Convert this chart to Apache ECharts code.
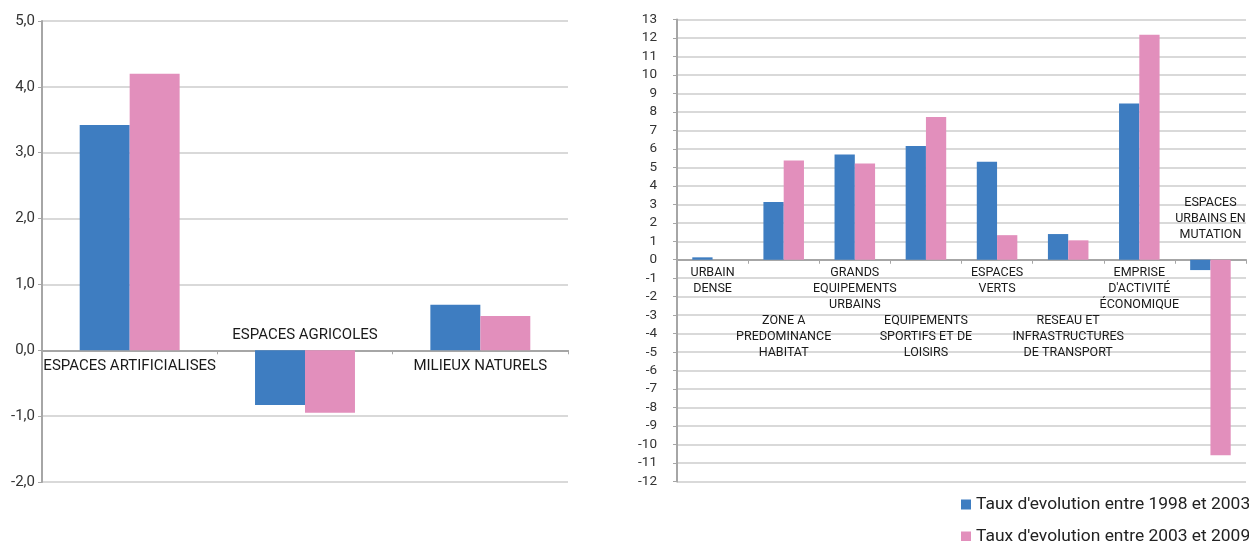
<!DOCTYPE html>
<html>
<head>
<meta charset="utf-8">
<script src="https://cdn.jsdelivr.net/npm/echarts@6/dist/echarts.min.js"></script>
<style>
  html, body { margin: 0; padding: 0; background: #fff; }
  #chart { width: 1249px; height: 541px; }
</style>
</head>
<body>
<div id="chart"></div>
<script>
// Land-use change rates, two periods
const seriesNames = ["Taux d'evolution entre 1998 et 2003", "Taux d'evolution entre 2003 et 2009"];

// Broad land-use classes (left panel)
const broadCategories = ['ESPACES ARTIFICIALISES', 'ESPACES AGRICOLES', 'MILIEUX NATURELS'];
const broad1998 = [3.42, -0.83, 0.69];
const broad2003 = [4.20, -0.95, 0.52];
const broadMin = -2, broadMax = 5, broadStep = 1;

// Artificial land-use sub-classes (right panel)
const urbanCategories = [
  'URBAIN\nDENSE',
  'ZONE A\nPREDOMINANCE\nHABITAT',
  'GRANDS\nEQUIPEMENTS\nURBAINS',
  'EQUIPEMENTS\nSPORTIFS ET DE\nLOISIRS',
  'ESPACES\nVERTS',
  'RESEAU ET\nINFRASTRUCTURES\nDE TRANSPORT',
  "EMPRISE\nD'ACTIVITÉ\nÉCONOMIQUE",
  'ESPACES\nURBAINS EN\nMUTATION'
];
const urban1998 = [0.13, 3.12, 5.70, 6.15, 5.30, 1.39, 8.46, -0.56];
const urban2003 = [0.00, 5.37, 5.21, 7.73, 1.33, 1.05, 12.17, -10.58];
const urbanMin = -12, urbanMax = 13, urbanStep = 1;

const colors = ['#3e7dc1', '#e28fbc'];
const FONT = 'Roboto, "Noto Sans", sans-serif';
const axisGray = '#a6a6a6';
const gridGray = '#d9d9d9';

const grids = [
  { left: 42, top: 21, width: 526, height: 461, outerBoundsMode: 'none' },
  { left: 677, top: 19.5, width: 569, height: 462, outerBoundsMode: 'none' }
];

// a category whose bars are all below zero gets its label above the axis
function allNegative(a, b, i) { return a[i] < 0 && b[i] < 0; }

function bottomAxis(gridIndex, cats, a, b, margin, fontSize, stagger) {
  return {
    type: 'category', gridIndex, data: cats, position: 'bottom',
    axisLine: { onZero: false, lineStyle: { color: axisGray, width: 2 } },
    axisTick: { show: true, length: 4, lineStyle: { color: axisGray, width: 1 } },
    axisLabel: {
      interval: 0, margin, color: '#1a1a1a', fontFamily: FONT, fontSize, lineHeight: 16,
      formatter: (v, i) => allNegative(a, b, i) ? '' : (stagger && i % 2 === 1 ? '\n\n\n' + v : v)
    },
    splitLine: { show: false }
  };
}

function topAxis(gridIndex, cats, a, b, margin, fontSize) {
  return {
    type: 'category', gridIndex, data: cats, position: 'top',
    axisLine: { show: false, onZero: false },
    axisTick: { show: false },
    axisLabel: {
      interval: 0, margin, color: '#1a1a1a', fontFamily: FONT, fontSize, lineHeight: 16,
      formatter: (v, i) => allNegative(a, b, i) ? v : ''
    },
    splitLine: { show: false }
  };
}

function valueAxis(gridIndex, min, max, step, margin, fontSize, fmt) {
  return {
    type: 'value', gridIndex, min, max, interval: step,
    axisLine: { show: true, lineStyle: { color: axisGray, width: 2 } },
    axisTick: { show: true, length: 4, lineStyle: { color: axisGray, width: 1 } },
    axisLabel: { margin, color: '#333', fontFamily: FONT, fontSize, formatter: fmt },
    splitLine: { show: true, lineStyle: { color: gridGray, width: 2 } }
  };
}

function barSeries(name, data, xIndex, yIndex, color) {
  return {
    type: 'bar', name, data, xAxisIndex: xIndex, yAxisIndex: yIndex,
    barGap: '0%', barCategoryGap: '43%',
    itemStyle: { color }, emphasis: { disabled: true }
  };
}

function legendRow(name, top) {
  return {
    orient: 'vertical', left: 961, top, padding: 0,
    itemWidth: 10, itemHeight: 10, icon: 'rect',
    textStyle: { color: '#222', fontFamily: FONT, fontSize: 17.4 },
    data: [name]
  };
}

const chart = echarts.init(document.getElementById('chart'), null, { renderer: 'canvas' });
chart.setOption({
  animation: false,
  backgroundColor: '#fff',
  textStyle: { fontFamily: FONT },
  grid: grids,
  xAxis: [
    bottomAxis(0, broadCategories, broad1998, broad2003, 8, 15, false),
    topAxis(0, broadCategories, broad1998, broad2003, 7, 15),
    bottomAxis(1, urbanCategories, urban1998, urban2003, 5, 12.5, true),
    topAxis(1, urbanCategories, urban1998, urban2003, 17, 12.5)
  ],
  yAxis: [
    valueAxis(0, broadMin, broadMax, broadStep, 7, 15, v => v.toFixed(1).replace('.', ',')),
    valueAxis(1, urbanMin, urbanMax, urbanStep, 20, 13.5, v => String(v))
  ],
  legend: [legendRow(seriesNames[0], 496), legendRow(seriesNames[1], 528)],
  series: [
    barSeries(seriesNames[0], broad1998, 0, 0, colors[0]),
    barSeries(seriesNames[1], broad2003, 0, 0, colors[1]),
    barSeries(seriesNames[0], urban1998, 2, 1, colors[0]),
    barSeries(seriesNames[1], urban2003, 2, 1, colors[1])
  ]
});

// move both category axes of each panel onto the value axis zero line
const zeroLeft = chart.convertToPixel({ yAxisIndex: 0 }, 0);
const zeroRight = chart.convertToPixel({ yAxisIndex: 1 }, 0);
chart.setOption({
  xAxis: [
    { offset: zeroLeft - (grids[0].top + grids[0].height) },
    { offset: grids[0].top - zeroLeft },
    { offset: zeroRight - (grids[1].top + grids[1].height) },
    { offset: grids[1].top - zeroRight }
  ]
});
</script>
</body>
</html>
